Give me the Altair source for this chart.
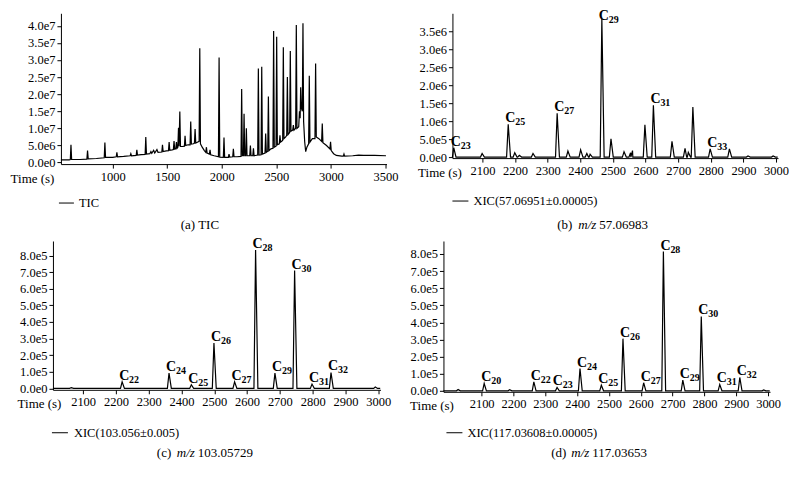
import altair as alt
import pandas as pd

FONT = "Liberation Serif"

# ---------------- (a) TIC : polyline vertices (time s, intensity) ----------------
TIC_T = [525, 600, 611, 617, 623, 700, 763, 769, 775, 850, 922, 928, 934, 1000, 1032, 1038, 1044,
         1100, 1160, 1166, 1172, 1215, 1221, 1227, 1260, 1297, 1303, 1309, 1340, 1350, 1358, 1375,
         1385, 1405, 1415, 1450, 1456, 1462, 1490, 1511, 1517, 1523, 1545, 1556, 1562, 1568, 1578,
         1584, 1590, 1597, 1603, 1608, 1615, 1621, 1640, 1657, 1663, 1669, 1690, 1709, 1715, 1721,
         1740, 1749, 1755, 1761, 1780, 1792, 1798, 1804, 1820, 1840, 1853, 1859, 1865, 1886, 1892,
         1898, 1930, 1969, 1975, 1981, 2014, 2020, 2026, 2060, 2066, 2072, 2100, 2106, 2112, 2140,
         2176, 2182, 2188, 2198, 2204, 2210, 2219, 2225, 2231, 2256, 2262, 2268, 2284, 2290, 2296,
         2329, 2335, 2341, 2360, 2366, 2372, 2396, 2402, 2408, 2421, 2427, 2433, 2450, 2469, 2475,
         2481, 2497, 2503, 2509, 2527, 2533, 2539, 2558, 2564, 2570, 2586, 2595, 2601, 2607, 2622,
         2628, 2634, 2650, 2656, 2662, 2677, 2683, 2689, 2705, 2712, 2718, 2723, 2729, 2738, 2744,
         2750, 2760, 2769, 2780, 2796, 2802, 2808, 2830, 2854, 2860, 2866, 2890, 2915, 2921, 2927,
         2960, 2991, 2997, 3003, 3025, 3050, 3100, 3114, 3120, 3126, 3200, 3254, 3300, 3400, 3505]
TIC_V = [0.08e7, 0.08e7, 0.09e7, 0.52e7, 0.09e7, 0.09e7, 0.10e7, 0.35e7, 0.11e7, 0.12e7, 0.14e7,
         0.59e7, 0.15e7, 0.15e7, 0.17e7, 0.30e7, 0.17e7, 0.18e7, 0.20e7, 0.26e7, 0.20e7, 0.21e7,
         0.37e7, 0.22e7, 0.23e7, 0.24e7, 0.75e7, 0.25e7, 0.26e7, 0.32e7, 0.27e7, 0.36e7, 0.28e7,
         0.38e7, 0.30e7, 0.31e7, 0.52e7, 0.32e7, 0.34e7, 0.35e7, 0.60e7, 0.36e7, 0.37e7, 0.38e7,
         0.63e7, 0.39e7, 0.40e7, 0.60e7, 0.42e7, 0.45e7, 1.02e7, 0.48e7, 1.49e7, 0.47e7, 0.47e7,
         0.48e7, 0.78e7, 0.50e7, 0.52e7, 0.52e7, 1.20e7, 0.54e7, 0.55e7, 0.57e7, 0.98e7, 0.57e7,
         0.60e7, 0.62e7, 3.34e7, 0.55e7, 0.45e7, 0.35e7, 0.30e7, 0.45e7, 0.28e7, 0.25e7, 0.37e7,
         0.23e7, 0.20e7, 0.17e7, 3.07e7, 0.16e7, 0.15e7, 0.73e7, 0.15e7, 0.15e7, 0.25e7, 0.16e7,
         0.17e7, 0.40e7, 0.17e7, 0.17e7, 0.18e7, 2.15e7, 0.20e7, 0.20e7, 1.43e7, 0.20e7, 0.20e7,
         1.00e7, 0.20e7, 0.20e7, 0.50e7, 0.20e7, 0.20e7, 0.42e7, 0.20e7, 0.22e7, 2.75e7, 0.22e7,
         0.23e7, 2.80e7, 0.25e7, 0.28e7, 0.85e7, 0.30e7, 0.33e7, 1.93e7, 0.35e7, 0.40e7, 0.42e7,
         3.85e7, 0.45e7, 0.48e7, 3.68e7, 0.52e7, 0.55e7, 0.80e7, 0.60e7, 0.65e7, 3.37e7, 0.70e7,
         0.75e7, 0.80e7, 2.50e7, 0.82e7, 0.88e7, 3.26e7, 0.92e7, 0.95e7, 1.10e7, 0.95e7, 1.00e7,
         4.02e7, 1.00e7, 1.05e7, 1.50e7, 1.30e7, 2.20e7, 1.60e7, 1.50e7, 4.07e7, 1.20e7, 0.60e7,
         0.32e7, 0.45e7, 0.55e7, 2.54e7, 0.60e7, 0.70e7, 0.70e7, 2.90e7, 0.75e7, 0.70e7, 0.62e7,
         1.14e7, 0.58e7, 0.50e7, 0.40e7, 0.61e7, 0.35e7, 0.26e7, 0.21e7, 0.19e7, 0.19e7, 0.25e7,
         0.19e7, 0.20e7, 0.22e7, 0.21e7, 0.21e7, 0.20e7]

# ---------------- (b) XIC 57.06951 ----------------
B_PEAK_T = [2012, 2099, 2179, 2199, 2213, 2255, 2329, 2362, 2401, 2420, 2430, 2466, 2494, 2534,
            2554, 2560, 2598, 2624, 2681, 2721, 2731, 2745, 2798, 2857, 2914, 2991]
B_PEAK_V = [2.6e5, 1.0e5, 9.1e5, 1.2e5, 5.0e4, 1.0e5, 1.22e6, 1.7e5, 2.0e5, 1.0e5, 8.0e4, 3.84e6,
            5.1e5, 1.5e5, 1.2e5, 1.8e5, 9.0e5, 1.44e6, 4.4e5, 2.4e5, 1.3e5, 1.39e6, 2.3e5, 2.3e5,
            3.0e4, 3.0e4]
B_LAB = ["23", "25", "27", "29", "31", "33"]
B_LAB_T = [2012, 2179, 2329, 2466, 2624, 2798]
B_LAB_V = [2.6e5, 9.1e5, 1.22e6, 3.76e6, 1.44e6, 2.3e5]

# ---------------- (c) XIC 103.056 ----------------
C_PEAK_T = [2064, 2219, 2362, 2430, 2499, 2562, 2626, 2685, 2745, 2798, 2856, 2991]
C_PEAK_V = [5.0e3, 4.0e4, 9.2e4, 2.2e4, 2.73e5, 4.0e4, 8.34e5, 9.2e4, 7.1e5, 2.6e4, 9.6e4, 8.0e3]
C_LAB = ["22", "24", "25", "26", "27", "28", "29", "30", "31", "32"]
C_LAB_T = [2219, 2362, 2430, 2499, 2562, 2626, 2685, 2745, 2798, 2856]
C_LAB_V = [4.0e4, 9.2e4, 2.2e4, 2.73e5, 4.0e4, 8.34e5, 9.2e4, 7.1e5, 2.6e4, 9.6e4]

# ---------------- (d) XIC 117.03608 ----------------
D_PEAK_T = [2026, 2108, 2188, 2264, 2337, 2409, 2476, 2544, 2609, 2671, 2732, 2790, 2848, 2911, 2986]
D_PEAK_V = [8.0e3, 4.3e4, 6.0e3, 5.2e4, 2.0e4, 1.3e5, 3.3e4, 3.05e5, 4.7e4, 8.14e5, 6.2e4, 4.35e5,
            3.7e4, 7.8e4, 5.0e3]
D_LAB = ["20", "22", "23", "24", "25", "26", "27", "28", "29", "30", "31", "32"]
D_LAB_T = [2108, 2264, 2333, 2409, 2476, 2544, 2609, 2671, 2732, 2790, 2848, 2911]
D_LAB_V = [4.3e4, 5.2e4, 2.0e4, 1.3e5, 3.3e4, 3.05e5, 4.7e4, 8.14e5, 6.2e4, 4.35e5, 3.7e4, 7.8e4]

# axis tick values
A_XTICKS = [1000, 1500, 2000, 2500, 3000, 3500]
A_YTICKS = [0, 5e6, 1e7, 1.5e7, 2e7, 2.5e7, 3e7, 3.5e7, 4e7]
B_YTICKS = [0, 5e5, 1e6, 1.5e6, 2e6, 2.5e6, 3e6, 3.5e6]
CD_YTICKS = [0, 1e5, 2e5, 3e5, 4e5, 5e5, 6e5, 7e5, 8e5]
XIC_XTICKS = [2100, 2200, 2300, 2400, 2500, 2600, 2700, 2800, 2900, 3000]

HW_L, HW_R = 5, 7  # peak half widths (s) used to draw narrow peaks


def peaks_frame(pt, pv, start, end):
    rows = [(start, 0.0)]
    for t, v in zip(pt, pv):
        rows += [(t - HW_L, 0.0), (t, v), (t + HW_R, 0.0)]
    rows.append((end, 0.0))
    return pd.DataFrame(rows, columns=["t", "v"])


YLAB = "replace(format(datum.value, '.1e'), '+', '')"
ONE = pd.DataFrame({"k": [0]})
AX = dict(labelFont=FONT, labelFontSize=12.5, labelColor="black", domainColor="black",
          tickColor="black", tickSize=4, labelPadding=2, grid=False)


def panel(line_df, lab_df, xdom, xvals, ydom, yvals, w, h, title_x,
          legend, leg, caption, shift=0):
    xenc = alt.X("t:Q", scale=alt.Scale(domain=xdom, nice=False, zero=False, range=[shift, w]),
                 axis=alt.Axis(values=xvals, format="d", title="Time (s)", titleX=title_x + shift,
                               titleY=18, titleAlign="right", titleBaseline="alphabetic",
                               titleFont=FONT, titleFontSize=13, titleFontWeight="normal",
                               titleColor="black", **AX))
    yenc = alt.Y("v:Q", scale=alt.Scale(domain=ydom, nice=False, zero=False),
                 axis=alt.Axis(values=yvals, title=None, labelExpr=YLAB, offset=-shift, **AX))
    layers = [alt.Chart(line_df).mark_line(color="black", strokeWidth=1.2)
              .encode(x=xenc, y=yenc)]
    if lab_df is not None:
        layers.append(alt.Chart(lab_df).mark_text(
            text="C", align="left", baseline="alphabetic", dx=-3, dy=-2, fontSize=14,
            fontWeight="bold", font=FONT, color="black").encode(x=xenc, y=yenc))
        layers.append(alt.Chart(lab_df).mark_text(
            align="left", baseline="alphabetic", dx=7, dy=1, fontSize=10,
            fontWeight="bold", font=FONT, color="black").encode(x=xenc, y=yenc, text="n:N"))
    lx0, lx1, ly, tx = leg
    layers.append(alt.Chart(ONE).mark_rule(color="black", strokeWidth=1).encode(
        x=alt.value(lx0 + shift), x2=alt.value(lx1 + shift), y=alt.value(ly)))
    layers.append(alt.Chart(ONE).mark_text(
        align="left", baseline="middle", fontSize=12.5, font=FONT, color="black").encode(
        x=alt.value(tx + shift), y=alt.value(ly), text=alt.value(legend)))
    for txt, cx, cy, ital in caption:
        layers.append(alt.Chart(ONE).mark_text(
            align="left", baseline="middle", fontSize=13, font=FONT, color="black",
            fontStyle="italic" if ital else "normal").encode(
            x=alt.value(cx + shift), y=alt.value(cy), text=alt.value(txt)))
    return alt.layer(*layers).properties(width=w, height=h)


tic_df = pd.DataFrame({"t": TIC_T, "v": TIC_V})
pa = panel(tic_df, None, [525, 3510], A_XTICKS, [-4.4e5, 4.365e7], A_YTICKS, 334, 151, -7,
           "TIC", (-2, 13, 190, 18),
           [("(a)  TIC", 120, 212, False)], shift=8)

b_df = peaks_frame(B_PEAK_T, B_PEAK_V, 2008, 3005)
b_lab = pd.DataFrame({"t": B_LAB_T, "v": B_LAB_V, "n": B_LAB})
pb = panel(b_df, b_lab, [2008, 3006], XIC_XTICKS, [-2.8e4, 4.0e6], B_YTICKS, 326, 145, 9,
           "XIC(57.06951\u00b10.00005)", (0, 16, 188, 21),
           [("(b)", 105, 212, False), ("m/z", 126, 212, True), ("57.06983", 147, 212, False)])

c_df = peaks_frame(C_PEAK_T, C_PEAK_V, 2008, 3006)
c_lab = pd.DataFrame({"t": C_LAB_T, "v": C_LAB_V, "n": C_LAB})
pc = panel(c_df, c_lab, [2008, 3007], XIC_XTICKS, [-8.4e3, 8.88e5], CD_YTICKS, 328, 149, 8,
           "XIC(103.056\u00b10.005)", (-1, 15, 192, 21),
           [("(c)", 104, 212, False), ("m/z", 124, 212, True), ("103.05729", 145, 212, False)])

d_df = peaks_frame(D_PEAK_T, D_PEAK_V, 1980, 3005)
d_lab = pd.DataFrame({"t": D_LAB_T, "v": D_LAB_V, "n": D_LAB})
pd_ = panel(d_df, d_lab, [1980, 3006], XIC_XTICKS, [-5.8e3, 8.76e5], CD_YTICKS, 327, 151, 10,
            "XIC(117.03608\u00b10.00005)", (3, 19, 192, 24),
            [("(d)", 108, 212, False), ("m/z", 128, 212, True), ("117.03653", 149, 212, False)])

row1 = alt.hconcat(pa, pb, spacing=66, bounds="flush")
row2 = alt.hconcat(pc, pd_, spacing=63, bounds="flush")
chart = alt.vconcat(row1, row2, spacing=4,
                    padding={"left": 2, "top": 0, "right": 0, "bottom": 0}).configure(
    font=FONT).configure_view(stroke=None)

chart.save("out.html", embed_options={"renderer": "svg", "actions": False})
